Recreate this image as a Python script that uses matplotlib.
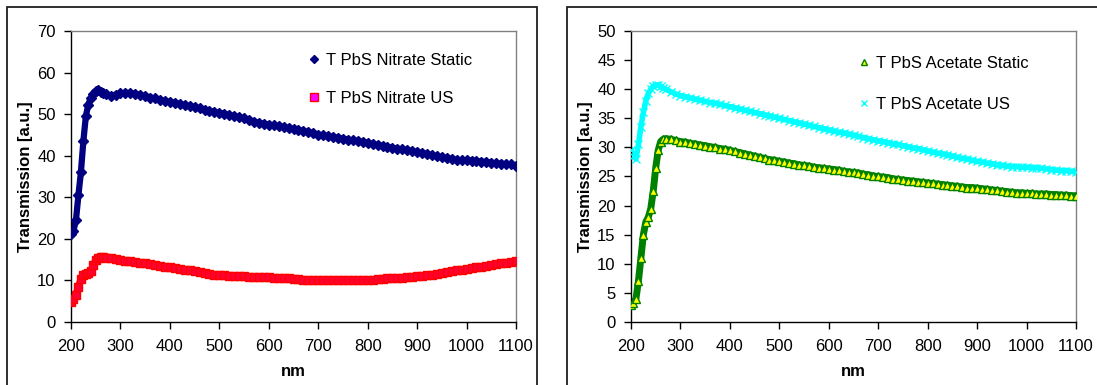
import numpy as np
import matplotlib
matplotlib.use('Agg')
import matplotlib.pyplot as plt
from matplotlib.patches import Rectangle

plt.rcParams['font.family'] = ['Liberation Sans', 'DejaVu Sans']

# wavelength grid (nm): 5 nm steps over the absorption edge, 10 nm after
wl = np.r_[200:271:5, 280:1101:10]

nitrate_static = [
    21.2, 22.0, 24.5, 30.5, 36.0, 43.5, 49.5, 52.3, 53.8, 54.9, 55.6, 55.8, 55.4, 55.1, 54.9,
    54.4, 54.7, 55.0, 55.1, 55.1, 54.9, 54.6, 54.3, 54.0, 53.8, 53.4, 53.1, 52.9,
    52.7, 52.4, 52.2, 51.9, 51.7, 51.4, 51.1, 50.8, 50.5, 50.3,
    50.1, 49.8, 49.5, 49.3, 49.0, 48.6, 48.2, 47.9, 47.7, 47.5,
    47.3, 47.1, 46.9, 46.7, 46.4, 46.2, 46.0, 45.7, 45.4, 45.1,
    44.9, 44.7, 44.5, 44.3, 44.1, 43.9, 43.7, 43.5, 43.3, 43.1,
    42.8, 42.6, 42.3, 42.1, 41.9, 41.7, 41.5, 41.3, 41.1, 40.9,
    40.6, 40.4, 40.1, 39.9, 39.6, 39.4, 39.2, 39.0, 38.9, 38.9,
    38.8, 38.7, 38.6, 38.5, 38.3, 38.2, 38.1, 38.0, 37.9, 37.6,
]

nitrate_us = [
    4.9, 5.5, 6.6, 8.5, 10.3, 11.2, 11.5, 11.8, 12.3, 13.6, 14.9, 15.4, 15.6, 15.6, 15.5,
    15.3, 15.1, 14.9, 14.7, 14.6, 14.4, 14.2, 14.1, 13.9, 13.7, 13.5, 13.3, 13.2,
    13.0, 12.8, 12.6, 12.4, 12.2, 12.0, 11.8, 11.6, 11.4, 11.3,
    11.2, 11.1, 11.1, 11.0, 11.0, 10.9, 10.9, 10.8, 10.8, 10.8,
    10.7, 10.7, 10.6, 10.5, 10.4, 10.3, 10.2, 10.1, 10.0, 10.0,
    10.0, 10.0, 10.0, 10.0, 10.0, 10.0, 10.0, 10.1, 10.1, 10.1,
    10.2, 10.3, 10.4, 10.5, 10.5, 10.6, 10.7, 10.8, 10.9, 11.0,
    11.1, 11.3, 11.4, 11.6, 11.8, 12.0, 12.2, 12.4, 12.6, 12.8,
    13.0, 13.2, 13.3, 13.5, 13.7, 13.9, 14.1, 14.3, 14.4, 14.6,
]

acetate_static = [
    3.0, 3.3, 4.0, 7.0, 11.0, 15.0, 17.2, 18.0, 19.5, 22.5, 26.5, 29.5, 31.0, 31.4, 31.5,
    31.4, 31.2, 31.0, 30.9, 30.7, 30.6, 30.4, 30.3, 30.1, 30.0, 29.8, 29.7, 29.5,
    29.3, 29.1, 28.9, 28.7, 28.5, 28.3, 28.1, 27.9, 27.8, 27.6,
    27.5, 27.3, 27.2, 27.0, 26.9, 26.8, 26.6, 26.5, 26.4, 26.3,
    26.2, 26.1, 25.9, 25.8, 25.7, 25.6, 25.4, 25.3, 25.1, 25.0,
    24.9, 24.8, 24.6, 24.5, 24.4, 24.3, 24.2, 24.1, 24.0, 23.9,
    23.8, 23.7, 23.6, 23.5, 23.4, 23.3, 23.2, 23.1, 23.1, 23.0,
    22.9, 22.8, 22.7, 22.6, 22.5, 22.4, 22.3, 22.2, 22.2, 22.1,
    22.1, 22.0, 22.0, 22.0, 21.9, 21.9, 21.8, 21.8, 21.7, 21.7,
]

acetate_us = [
    29.5, 28.5, 28.0, 30.5, 33.5, 36.0, 38.0, 39.3, 40.0, 40.5, 40.7, 40.7, 40.5, 40.2, 40.0,
    39.6, 39.2, 38.9, 38.7, 38.5, 38.3, 38.1, 37.9, 37.7, 37.6, 37.4, 37.2, 37.0,
    36.8, 36.6, 36.4, 36.2, 36.0, 35.8, 35.6, 35.4, 35.2, 35.0,
    34.8, 34.6, 34.4, 34.2, 34.0, 33.8, 33.6, 33.4, 33.2, 33.0,
    32.8, 32.6, 32.5, 32.3, 32.1, 31.9, 31.7, 31.5, 31.3, 31.1,
    31.0, 30.8, 30.6, 30.5, 30.3, 30.1, 29.9, 29.8, 29.6, 29.4,
    29.2, 29.0, 28.9, 28.7, 28.5, 28.3, 28.1, 28.0, 27.8, 27.6,
    27.5, 27.3, 27.2, 27.0, 26.9, 26.8, 26.7, 26.7, 26.6, 26.6,
    26.5, 26.5, 26.4, 26.3, 26.2, 26.1, 26.0, 26.0, 25.9, 25.8,
]

W, H = 1097, 385
fig = plt.figure(figsize=(W / 100, H / 100), dpi=100)

# outer chart-area frames
fig.patches.append(Rectangle((7 / W, -0.1), 530 / W, 1.1 - 7 / H, transform=fig.transFigure,
                             fill=False, edgecolor='#202020', lw=1.3))
fig.patches.append(Rectangle((567 / W, -0.1), 0.6, 1.1 - 7 / H, transform=fig.transFigure,
                             fill=False, edgecolor='#202020', lw=1.3))

ax1 = fig.add_axes([71 / W, 63 / H, 445 / W, 291 / H])
ax2 = fig.add_axes([631 / W, 63 / H, 445 / W, 291 / H])


def style_axes(ax, ymax, ystep):
    ax.set_xlim(200, 1100)
    ax.set_ylim(0, ymax)
    ax.set_xticks(range(200, 1101, 100))
    ax.set_yticks(range(0, ymax + 1, ystep))
    ax.tick_params(direction='out', length=5, width=1, labelsize=12, color='black')
    ax.tick_params(axis='x', pad=7)
    ax.tick_params(axis='y', pad=6)
    for s in ['left', 'bottom']:
        ax.spines[s].set_color('black')
        ax.spines[s].set_linewidth(1)
    for s in ['top', 'right']:
        ax.spines[s].set_color('#808080')
        ax.spines[s].set_linewidth(1)
    ax.set_xlabel('nm', fontsize=12, fontweight='bold')
    ax.set_ylabel('Transmission [a.u.]', fontsize=12, fontweight='bold')
    ax.xaxis.set_label_coords(0.5, -0.145)
    ax.yaxis.set_label_coords(-0.085, 0.5)


# nitrate panel
ax1.plot(wl, nitrate_static, color='#000080', lw=4.5, zorder=2)
ax1.plot(wl, nitrate_static, ls='none', marker='D', ms=5, mfc='#000080', mec='#000080',
         label='T PbS Nitrate Static', zorder=3)
ax1.plot(wl, nitrate_us, color='#FF0000', lw=5, zorder=2)
ax1.plot(wl, nitrate_us, ls='none', marker='s', ms=5.5, mfc='#FF0030', mec='#FF0000', mew=1,
         label='T PbS Nitrate US', zorder=3)
style_axes(ax1, 70, 10)
leg1 = ax1.legend(loc='upper left', bbox_to_anchor=(307 / W, 1 - 53 / H), bbox_transform=fig.transFigure,
                  frameon=False, fontsize=12, handlelength=0.8, handletextpad=0.35,
                  labelspacing=1.4, borderpad=0, borderaxespad=0, numpoints=1)
leg1.legend_handles[0].set_markersize(4.5)
leg1.legend_handles[1].set_markerfacecolor('#FF00FF')

# acetate panel
ax2.plot(wl, acetate_us, color='#00FFFF', lw=4, zorder=2)
ax2.plot(wl, acetate_us, ls='none', marker='x', ms=6, mew=1, color='#00FFFF',
         label='T PbS Acetate US', zorder=3)
ax2.plot(wl, acetate_static, color='#008000', lw=5, zorder=2)
ax2.plot(wl, acetate_static, ls='none', marker='^', ms=5.5, mfc='#FFFF00', mec='#008000', mew=1,
         label='T PbS Acetate Static', zorder=3)
style_axes(ax2, 50, 5)
h, l = ax2.get_legend_handles_labels()
leg2 = ax2.legend(h[::-1], l[::-1], loc='upper left', bbox_to_anchor=(857 / W, 1 - 56 / H),
                  bbox_transform=fig.transFigure, frameon=False, fontsize=12, handlelength=0.8,
                  handletextpad=0.35, labelspacing=1.55, borderpad=0, borderaxespad=0, numpoints=1)
leg2.legend_handles[0].set_markersize(5)
leg2.legend_handles[1].set_markersize(5)

fig.savefig('out.png', dpi=100)
